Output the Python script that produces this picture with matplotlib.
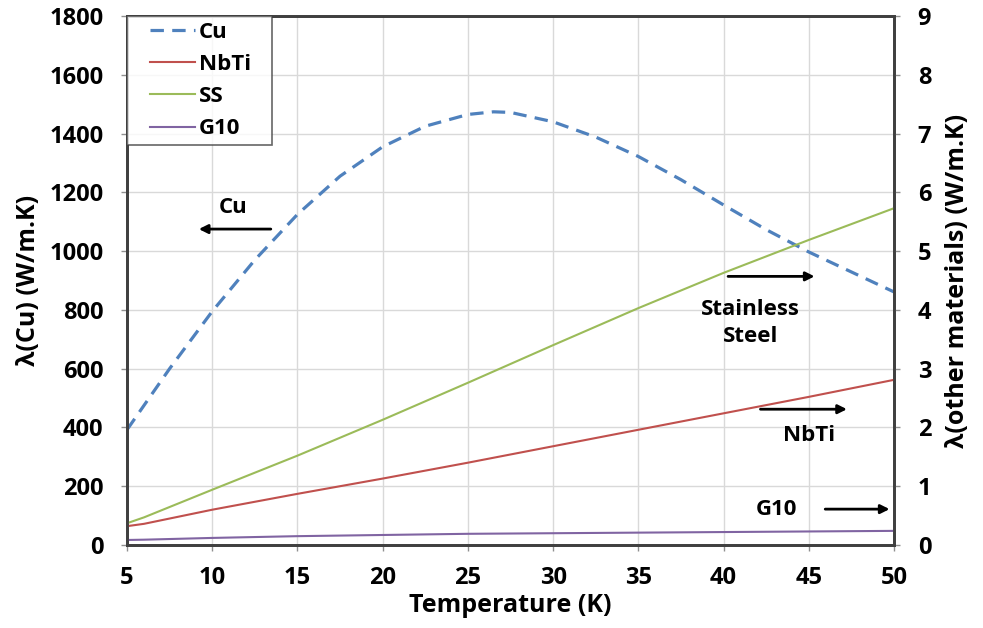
import matplotlib.pyplot as plt
from matplotlib.legend_handler import HandlerLine2D

plt.rcParams['font.family'] = ['Open Sans', 'DejaVu Sans']
plt.rcParams['font.weight'] = 'bold'

# Thermal conductivity vs temperature
temp = [5, 7.5, 10, 12.5, 15, 17.5, 20, 22.5, 25, 26.5, 27.5, 30, 32.5, 35, 37.5, 40, 42.5, 45, 47.5, 50]
cu = [392, 600, 795, 970, 1125, 1255, 1355, 1425, 1465, 1474, 1472, 1440, 1388, 1322, 1243, 1157, 1073, 997, 929, 861]

temp_o = [5, 6, 10, 15, 20, 25, 30, 35, 40, 45, 50]
nbti = [0.32, 0.36, 0.60, 0.87, 1.13, 1.40, 1.68, 1.96, 2.24, 2.52, 2.81]
ss = [0.37, 0.47, 0.94, 1.52, 2.13, 2.76, 3.40, 4.03, 4.63, 5.19, 5.73]
g10 = [0.085, 0.09, 0.12, 0.15, 0.17, 0.19, 0.20, 0.21, 0.22, 0.23, 0.24]

FS = 16

fig = plt.figure(figsize=(9.83, 6.28), dpi=100)
ax = fig.add_axes([0.1292, 0.1322, 0.7803, 0.8423])
ax2 = ax.twinx()

l_cu, = ax.plot(temp, cu, color='#4F81BD', lw=2.3, dashes=(4.2, 2.6), label='Cu')
l_nb, = ax2.plot(temp_o, nbti, color='#C0504D', lw=1.5, label='NbTi')
l_ss, = ax2.plot(temp_o, ss, color='#9BBB59', lw=1.5, label='SS')
l_g, = ax2.plot(temp_o, g10, color='#8064A2', lw=1.5, label='G10')

ax.set_xlim(5, 50)
ax.set_ylim(0, 1800)
ax2.set_ylim(0, 9)
ax.set_xticks(range(5, 51, 5))
ax.set_yticks(range(0, 1801, 200))
ax2.set_yticks(range(0, 10))
ax.grid(True, color='#D9D9D9', lw=1)
ax.set_axisbelow(True)

for a in (ax, ax2):
    for s in a.spines.values():
        s.set_color('#404040')
        s.set_linewidth(2)
    a.tick_params(labelsize=17, length=4, color='#909090', width=1, pad=13)
ax.tick_params(axis='x', pad=11)

ax.set_xlabel('Temperature (K)', fontsize=18, fontweight='bold', labelpad=2)
ax.set_ylabel('λ(Cu) (W/m.K)', fontsize=18, fontweight='bold', labelpad=6)
ax2.set_ylabel('λ(other materials) (W/m.K)', fontsize=18, fontweight='bold', labelpad=10)

# legend: short handle sitting right of a wide left margin
hl = HandlerLine2D(xpad=0.77)
leg = ax2.legend(handles=[l_cu, l_nb, l_ss, l_g], loc='upper left', fontsize=FS,
                 bbox_to_anchor=(0, 1, 0.189, 0), mode='expand',
                 fancybox=False, edgecolor='#404040', borderaxespad=0,
                 handlelength=2.8, handletextpad=0.18, labelspacing=0.5, borderpad=0.27,
                 handler_map={l: hl for l in (l_cu, l_nb, l_ss, l_g)})
leg.get_frame().set_linewidth(1.2)

arrow = dict(arrowstyle='-|>', color='black', lw=2, mutation_scale=13)
ax.annotate('', xy=(9.05, 1075), xytext=(13.6, 1075), arrowprops=arrow)
ax.text(11.2, 1150, 'Cu', fontsize=FS, fontweight='bold', ha='center', va='center')
ax2.annotate('', xy=(45.5, 4.57), xytext=(40.1, 4.57), arrowprops=arrow)
ax2.text(41.6, 3.78, 'Stainless\nSteel', fontsize=FS, fontweight='bold', ha='center', va='center', linespacing=1.4)
ax2.annotate('', xy=(47.4, 2.31), xytext=(42.0, 2.31), arrowprops=arrow)
ax2.text(45.0, 1.87, 'NbTi', fontsize=FS, fontweight='bold', ha='center', va='center')
ax2.annotate('', xy=(49.9, 0.61), xytext=(45.8, 0.61), arrowprops=arrow)
ax2.text(43.1, 0.6, 'G10', fontsize=FS, fontweight='bold', ha='center', va='center')

fig.savefig('out.png', dpi=100)
